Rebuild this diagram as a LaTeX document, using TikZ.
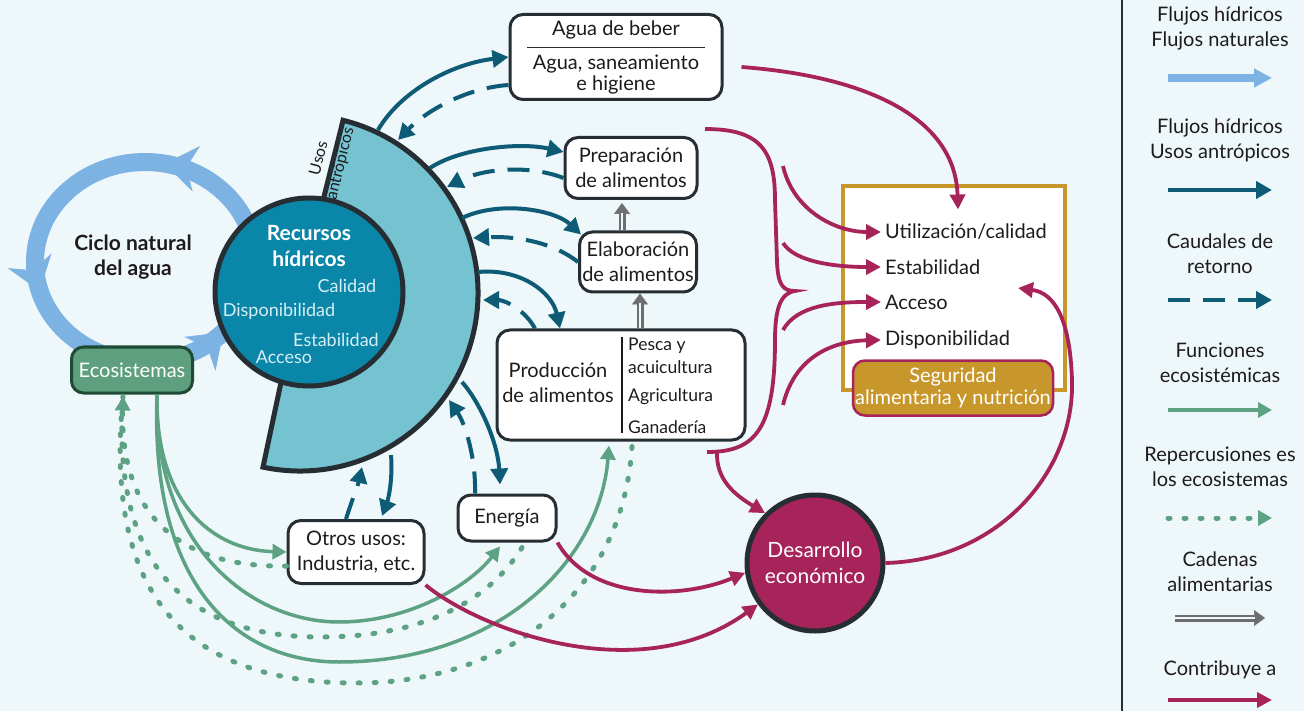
\documentclass[tikz,border=0pt]{standalone}
\usepackage{fontspec}
\setmainfont{Lato}
\usetikzlibrary{arrows.meta,decorations.markings}

\definecolor{fondo}{HTML}{EEF7FA}
\definecolor{tinta}{HTML}{1F1B1D}
\definecolor{oscuro}{HTML}{262E33}
\definecolor{azulnat}{HTML}{7DB3E2}
\definecolor{azulosc}{HTML}{0D5B74}
\definecolor{azulrec}{HTML}{0A87A8}
\definecolor{azulsec}{HTML}{75C2D1}
\definecolor{verde}{HTML}{5CA283}
\definecolor{verdeeco}{HTML}{5E9F80}
\definecolor{verdeosc}{HTML}{1E4B34}
\definecolor{granate}{HTML}{A6245A}
\definecolor{oro}{HTML}{C8972C}
\definecolor{gris}{HTML}{6E6E70}
\definecolor{claro}{HTML}{D6EEF5}

\begin{document}
\begin{tikzpicture}[x=1pt,y=-1pt,
	every node/.style={font=\fontsize{20}{25}\selectfont, text=tinta, inner sep=0pt},
	caja/.style={draw=oscuro, line width=3pt, fill=white, rounded corners=13pt, align=center},
	atrib/.style={text=claro, font=\fontsize{18}{22}\selectfont},
	item/.style={anchor=west, inner xsep=4pt},
	antropico/.style={azulosc, line width=4pt, -{Triangle[length=16pt,width=17pt]}},
	retorno/.style={antropico, dash pattern=on 22pt off 13pt},
	funcion/.style={verde, line width=3.5pt, -{Triangle[length=14pt,width=15pt]}},
	reperc/.style={verde, line width=5pt, line cap=round, dash pattern=on 2pt off 14pt},
	repercf/.style={reperc, -{Triangle[length=14pt,width=15pt]}},
	contrib/.style={granate, line width=3.8pt, -{Triangle[length=15pt,width=15pt]}},
	llave/.style={granate, line width=3.8pt},
	cadena/.style={gris, line width=2.2pt, double=fondo, double distance=2.6pt, shorten >=10pt},
	cadenapunta/.style={gris, line width=0.5pt, -{Triangle[length=11pt,width=16pt]}}]

	\useasboundingbox (0,0) rectangle (1304,711);
	\fill[fondo] (0,0) rectangle (1304,711);

	% ciclo natural del agua
	\draw[azulnat, line width=18pt, postaction={decorate}, decoration={markings,
		mark=at position 0.12 with {\arrowreversed{Stealth[length=32pt,width=46pt,inset=10pt,line width=0.5pt]}},
		mark=at position 0.455 with {\arrowreversed{Stealth[length=32pt,width=46pt,inset=10pt,line width=0.5pt]}},
		mark=at position 0.78 with {\arrowreversed{Stealth[length=32pt,width=46pt,inset=10pt,line width=0.5pt]}}}]
		(145,262) ellipse [x radius=110, y radius=100];
	\node[font=\bfseries\fontsize{21}{25}\selectfont, align=center] (ciclo) at (133,257) {Ciclo natural\\del agua};

	% usos antropicos
	\coordinate (sc) at (300,293);
	\filldraw[fill=azulsec, draw=oscuro, line width=5pt] (sc) -- ++(-76:178) arc[start angle=-76, end angle=102, radius=178] -- cycle;
	\node[rotate=76, align=center, font=\fontsize{16}{22}\selectfont] (usos) at (330,161) {Usos\\antrópicos};

	\node[circle, fill=azulrec, draw=oscuro, line width=5pt, minimum size=188pt] (rec) at (309,292) {};
	\node[text=white, font=\bfseries\fontsize{21}{26}\selectfont, align=center] (rectit) at (309,246) {Recursos\\hídricos};
	\node[atrib] (cal) at (347,286) {Calidad};
	\node[atrib] (disp) at (279,311) {Disponibilidad};
	\node[atrib] (estab) at (336,340) {Estabilidad};
	\node[atrib] (acc) at (284,357) {Acceso};

	\node[fill=verdeeco, draw=verdeosc, line width=3pt, rounded corners=12pt, minimum width=121pt, minimum height=46pt, text=white] (eco) at (132,370) {Ecosistemas};

	% usos
	\node[caja, minimum width=212pt, minimum height=85pt, font=\fontsize{20}{21}\selectfont] (agua) at (616,57) {Agua de beber\\[-8pt]\textcolor{oscuro}{\rule{178pt}{1pt}}\\Agua, saneamiento\\e higiene};
	\node[caja, minimum width=132pt, minimum height=61pt] (prep) at (631,168) {Preparación\\de alimentos};
	\node[caja, minimum width=117pt, minimum height=60pt] (elab) at (638,262) {Elaboración\\de alimentos};
	\node[caja, minimum width=248pt, minimum height=110pt] (prod) at (621,385) {};
	\node[align=center] (prodtxt) at (558,383) {Producción\\de alimentos};
	\draw[tinta, line width=1.2pt] (622,337) -- (622,433);
	\node[anchor=west, align=left, font=\fontsize{17.5}{23}\selectfont] (pesca) at (628,356) {Pesca y\\acuicultura};
	\node[anchor=west, font=\fontsize{17.5}{23}\selectfont] (agri) at (628,397) {Agricultura};
	\node[anchor=west, font=\fontsize{17.5}{23}\selectfont] (gana) at (628,427) {Ganadería};
	\node[caja, minimum width=98pt, minimum height=46pt] (ener) at (507,518) {Energía};
	\node[caja, minimum width=136pt, minimum height=63pt] (otros) at (356,552) {Otros usos:\\Industria, etc.};

	% seguridad alimentaria
	\node[draw=oro, line width=4pt, fill=white, minimum width=222pt, minimum height=203pt] (seg) at (954,288) {};
	\node[item] (util) at (881,232) {Utilización/calidad};
	\node[item] (estab2) at (881,267) {Estabilidad};
	\node[item] (acces) at (881,302) {Acceso};
	\node[item] (dispo) at (881,340) {Disponibilidad};
	\node[fill=oro, draw=granate, line width=2.5pt, rounded corners=12pt, minimum width=200pt, minimum height=55pt, text=white, align=center, font=\fontsize{20}{22}\selectfont] (seglab) at (953,388) {Seguridad\\alimentaria y nutrición};

	\node[circle, fill=granate, draw=oscuro, line width=5pt, minimum size=136pt, text=white, align=center, font=\fontsize{21}{26}\selectfont] (des) at (815,563) {Desarrollo\\económico};

	% puntos sobre el sector
	\foreach \n/\x/\y in {sa1/378/130, ra1/398/140, sa2/430/168, ra2/447/187, sa3/462/218, ra3/473/238,
		sa4/478/272, ra4/483/300, sa5/462/382, ra5/449/400, sa6/391/455, ra6/362/467}
		\coordinate (\n) at (\x,\y);

	\draw[antropico] (sa1) .. controls (400,92) and (450,64) .. (agua.west);
	\draw[retorno] ([yshift=-28pt]agua.west) .. controls (465,88) and (425,112) .. (ra1);
	\draw[antropico] (sa2) .. controls (460,148) and (520,142) .. ([yshift=16pt]prep.west);
	\draw[retorno] ([yshift=-10pt]prep.west) .. controls (530,165) and (485,168) .. (ra2);
	\draw[antropico] (sa3) .. controls (500,200) and (555,210) .. ([xshift=3pt,yshift=-4pt]elab.north west);
	\draw[retorno] (elab.west) .. controls (550,240) and (510,236) .. (ra3);
	\draw[antropico] (sa4) .. controls (520,268) and (552,292) .. ([xshift=-61pt]prod.north);
	\draw[retorno] ([xshift=-86pt]prod.north) .. controls (525,310) and (505,300) .. (ra4);
	\draw[antropico] (sa5) .. controls (482,405) and (498,445) .. ([xshift=-7pt,yshift=9pt]ener.north);
	\draw[retorno] ([xshift=-32pt]ener.north) .. controls (476,460) and (466,425) .. (ra5);
	\draw[antropico] (sa6) .. controls (393,480) and (388,500) .. ([xshift=26pt,yshift=3pt]otros.north);
	\draw[retorno] ([xshift=-10pt]otros.north) .. controls (352,500) and (358,485) .. (ra6);

	% cadenas alimentarias
	\draw[cadenapunta] ([xshift=19pt]prod.north) -- ([xshift=2pt]elab.south);
	\draw[cadena] ([xshift=19pt]prod.north) -- ([xshift=2pt]elab.south);
	\draw[cadenapunta] ([xshift=-16pt]elab.north) -- ([xshift=-9pt,yshift=-3pt]prep.south);
	\draw[cadena] ([xshift=-16pt]elab.north) -- ([xshift=-9pt,yshift=-3pt]prep.south);

	% funciones ecosistemicas
	\draw[funcion] ([xshift=25pt]eco.south) .. controls (155,500) and (210,550) .. (otros.west);
	\draw[funcion] ([xshift=25pt]eco.south) .. controls (153,545) and (250,622) .. (339,622) .. controls (410,622) and (470,585) .. ([xshift=-7pt,yshift=-4pt]ener.south);
	\draw[funcion] ([xshift=25pt]eco.south) .. controls (150,590) and (240,662) .. (339,662) .. controls (500,662) and (600,560) .. ([xshift=-12pt,yshift=-4pt]prod.south);

	% repercusiones
	\coordinate (ecoin) at ([xshift=-9pt,yshift=-2pt]eco.south);
	\draw[reperc] ([xshift=15pt,yshift=-5pt]ener.south) .. controls (480,615) and (400,637) .. (321,637) .. controls (180,637) and (112,560) .. (ecoin);
	\draw[reperc] ([xshift=11pt,yshift=-5pt]prod.south) .. controls (622,600) and (500,683) .. (357,683) .. controls (180,683) and (104,590) .. (ecoin);
	\draw[repercf] ([yshift=-14pt]otros.west) .. controls (185,568) and (120,520) .. (ecoin);

	% contribuye a
	\coordinate (ll1) at (705,129);
	\coordinate (ll2) at (795,291);
	\coordinate (ll3) at (707,452);
	\foreach \n/\y in {r1/166, r2/243, r3/330, r4/405}
		\coordinate (\n) at (783,\y);
	\coordinate (dsal) at (1018,288);

	\draw[contrib] ([xshift=18pt,yshift=-10pt]agua.east) .. controls (850,75) and (955,110) .. ([xshift=4pt,yshift=-25pt]seg.north);
	\draw[llave] (ll1) .. controls (760,129) and (775,150) .. (775,200) -- (777,262) .. controls (778,285) and (783,291) .. (ll2)
		.. controls (780,293) and (775,310) .. (775,340) .. controls (775,430) and (755,452) .. (ll3);
	\draw[contrib] ([xshift=10pt]ll3) .. controls (716,480) and (735,495) .. (des.135);
	\draw[contrib] (r1) .. controls (793,210) and (835,232) .. (util.west);
	\draw[contrib] (r2) .. controls (795,262) and (835,267) .. (estab2.west);
	\draw[contrib] (r3) .. controls (797,305) and (835,302) .. (acces.west);
	\draw[contrib] (r4) .. controls (795,355) and (835,341) .. (dispo.west);
	\draw[contrib] (ener.south east) .. controls (590,600) and (680,600) .. (des.188);
	\draw[contrib] (otros.south east) .. controls (480,630) and (640,690) .. (des.216);
	\draw[contrib] (des.east) .. controls (1000,560) and (1075,470) .. (1072,380) .. controls (1070,320) and (1055,293) .. (dsal);

	% leyenda
	\draw[oscuro, line width=1.5pt] (1122,0) -- (1122,711);
	\node[align=center] (ley1) at (1220,28) {Flujos hídricos\\Flujos naturales};
	\node[align=center] (ley2) at (1220,140) {Flujos hídricos\\Usos antrópicos};
	\node[align=center] (ley3) at (1220,254) {Caudales de\\retorno};
	\node[align=center] (ley4) at (1220,363) {Funciones\\ecosistémicas};
	\node[align=center] (ley5) at (1220,467) {Repercusiones es\\los ecosistemas};
	\node[align=center] (ley6) at (1220,572) {Cadenas\\alimentarias};
	\node (ley7) at (1220,670) {Contribuye a};

	\draw[azulnat, line width=8pt, -{Triangle[length=18pt,width=18pt]}] (1168,78) -- (1272,78);
	\foreach \y/\estilo in {190/antropico, 300/retorno, 410/funcion, 518/repercf, 700/contrib}
		\draw[\estilo] (1168,\y) -- (1272,\y);
	\draw[cadenapunta] (1175,618) -- (1265,618);
	\draw[cadena] (1175,618) -- (1265,618);
\end{tikzpicture}
\end{document}
